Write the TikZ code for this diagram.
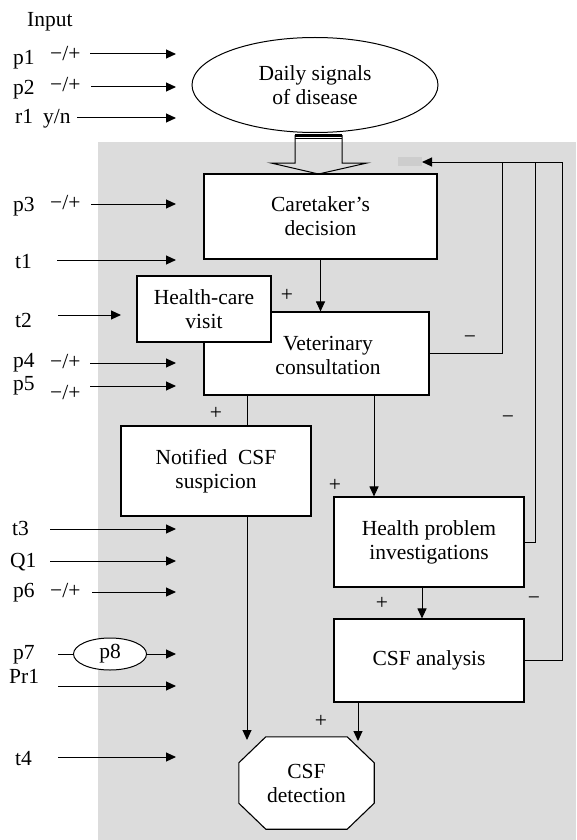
\documentclass[tikz,border=0pt]{standalone}
\usepackage{fontspec}
\setmainfont{Liberation Serif}
\usetikzlibrary{arrows.meta,shapes.geometric}
\definecolor{bgc}{RGB}{220,220,220}
\definecolor{barc}{RGB}{205,205,205}
\tikzset{
  box/.style={draw, line width=1.1pt, fill=white, inner sep=0pt, align=center},
  txt/.style={inner sep=0pt, align=center},
  lbl/.style={anchor=base west, inner sep=0pt},
  sgn/.style={inner sep=0pt},
  arr/.style={line width=1pt, -{Triangle[length=10pt,width=9pt]}},
  ln/.style={line width=1pt},
}
\begin{document}
\begin{tikzpicture}[x=1pt,y=-1pt,font=\fontsize{21.5}{24}\selectfont]
\useasboundingbox (0,0) rectangle (576,840);
% shaded area
\fill[bgc] (98,142) rectangle (576,840);
\fill[barc] (398,157) rectangle (422,166);

% main nodes
\node[box, ellipse, line width=1pt, minimum width=246pt, minimum height=95pt] (daily) at (315,85) {Daily signals\\of disease};
\node[box, minimum width=233pt, minimum height=85pt] (care) at (320.5,216.5) {Caretaker’s\\decision};
\node[box, minimum width=225pt, minimum height=83pt] (vet) at (316.5,353.5) {};
\node[txt] (vettxt) at (328,355) {Veterinary\\consultation};
\node[box, minimum width=134pt, minimum height=66pt] (hcv) at (204,309) {Health-care\\visit};
\node[box, minimum width=190pt, minimum height=90pt] (notif) at (216,471) {Notified\ \ CSF\\suspicion};
\node[box, minimum width=190pt, minimum height=90pt] (hp) at (429,542) {Health problem\\investigations};
\node[box, minimum width=190pt, minimum height=83pt] (csfa) at (429,660.5) {CSF analysis};
\node[inner sep=0pt, minimum width=135pt, minimum height=92pt] (det) at (306.5,783) {};
\draw[line width=1.1pt, fill=white]
  ([xshift=27pt]det.north west) -- ([xshift=-27pt]det.north east)
  -- ([yshift=-26pt]det.north east) -- ([yshift=26pt]det.south east)
  -- ([xshift=-27pt]det.south east) -- ([xshift=27pt]det.south west)
  -- ([yshift=26pt]det.south west) -- ([yshift=-26pt]det.north west) -- cycle;
\node[txt] (dettxt) at (det) {CSF\\detection};

% hollow arrow from ellipse to caretaker
\draw[line width=1pt] (295,135) -- (295,163) -- (271,163) -- (318.5,174) -- (367,163) -- (342,163) -- (342,135);
\draw[line width=2.6pt] (295,135.5) -- (342,135.5);
\draw[line width=0.7pt] (295,138.7) -- (342,138.7);

% internal connectors
\coordinate (vx1) at (247,0);
\coordinate (vx2) at (374,0);
\coordinate (vx3) at (422,0);
\coordinate (dtl) at (247,740);
\coordinate (dtr) at (358,741);
\draw[arr] (care.south) -- (care.south |- vet.north);
\draw[ln] (vet.south -| vx1) -- (notif.north -| vx1);
\draw[arr] (notif.south -| vx1) -- (dtl);
\draw[arr] (vet.south -| vx2) -- (hp.north -| vx2);
\draw[arr] (hp.south -| vx3) -- (csfa.north -| vx3);
\draw[arr] (csfa.south -| dtr) -- (dtr);

% feedback loops
\coordinate (fb1) at (502,162);
\coordinate (fb2) at (535,162);
\coordinate (fb3) at (562,162);
\coordinate (fbtip) at (422,162);
\draw[ln] (vet.east) -| (fb1);
\draw[ln] (hp.east) -| (fb2);
\draw[ln] (csfa.east) -| (fb3);
\draw[arr] (fb3) -- (fbtip);

% signs
\node[sgn] (s1) at (287,295) {+};
\node[sgn] (s2) at (216,413) {+};
\node[sgn] (s3) at (335,485) {+};
\node[sgn] (s4) at (382,603) {+};
\node[sgn] (s5) at (321,721) {+};
\node[sgn] (m1) at (470,340) {−};
\node[sgn] (m2) at (508,420) {−};
\node[sgn] (m3) at (534,601) {−};

% inputs
\node[lbl] (inp) at (27,27) {Input};
\node[lbl] (lp1) at (13,65) {p1};
\node[lbl] (sp1) at (50,61) {−/+};
\coordinate (a1) at (90,54); \coordinate (b1) at (176,54);
\draw[arr] (a1) -- (b1);
\node[lbl] (lp2) at (13,95) {p2};
\node[lbl] (sp2) at (50,92) {−/+};
\coordinate (a2) at (91,87); \coordinate (b2) at (176,87);
\draw[arr] (a2) -- (b2);
\node[lbl] (lr1) at (15,124) {r1};
\node[lbl] (sr1) at (43,124) {y/n};
\coordinate (a3) at (77,118); \coordinate (b3) at (176,118);
\draw[arr] (a3) -- (b3);
\node[lbl] (lp3) at (13,211) {p3};
\node[lbl] (sp3) at (50,209) {−/+};
\coordinate (a4) at (91,204); \coordinate (b4) at (176,204);
\draw[arr] (a4) -- (b4);
\node[lbl] (lt1) at (15,268) {t1};
\coordinate (a5) at (57,260); \coordinate (b5) at (176,260);
\draw[arr] (a5) -- (b5);
\node[lbl] (lt2) at (15,327) {t2};
\coordinate (a6) at (58,315); \coordinate (b6) at (121,315);
\draw[arr] (a6) -- (b6);
\node[lbl] (lp4) at (13,367) {p4};
\node[lbl] (sp4) at (50,368) {−/+};
\coordinate (a7) at (90,363); \coordinate (b7) at (176,363);
\draw[arr] (a7) -- (b7);
\node[lbl] (lp5) at (13,390) {p5};
\node[lbl] (sp5) at (50,399) {−/+};
\coordinate (a8) at (90,386); \coordinate (b8) at (176,386);
\draw[arr] (a8) -- (b8);
\node[lbl] (lt3) at (12,535) {t3};
\coordinate (a9) at (50,529); \coordinate (b9) at (176,529);
\draw[arr] (a9) -- (b9);
\node[lbl] (lq1) at (10,567) {Q1};
\coordinate (a10) at (50,561); \coordinate (b10) at (176,561);
\draw[arr] (a10) -- (b10);
\node[lbl] (lp6) at (13,597) {p6};
\node[lbl] (sp6) at (50,597) {−/+};
\coordinate (a11) at (92,592); \coordinate (b11) at (176,592);
\draw[arr] (a11) -- (b11);
\node[lbl] (lp7) at (13,659) {p7};
\node[draw, ellipse, line width=1pt, fill=white, inner sep=0pt, minimum width=73pt, minimum height=32pt] (p8) at (110,654) {p8};
\coordinate (a12) at (58,654); \coordinate (b12) at (176,654);
\draw[ln] (a12) -- (p8.west);
\draw[arr] (p8.east) -- (b12);
\node[lbl] (lpr1) at (9,683) {Pr1};
\coordinate (a13) at (58,686); \coordinate (b13) at (176,686);
\draw[arr] (a13) -- (b13);
\node[lbl] (lt4) at (15,765) {t4};
\coordinate (a14) at (58,757); \coordinate (b14) at (176,757);
\draw[arr] (a14) -- (b14);
\end{tikzpicture}
\end{document}
